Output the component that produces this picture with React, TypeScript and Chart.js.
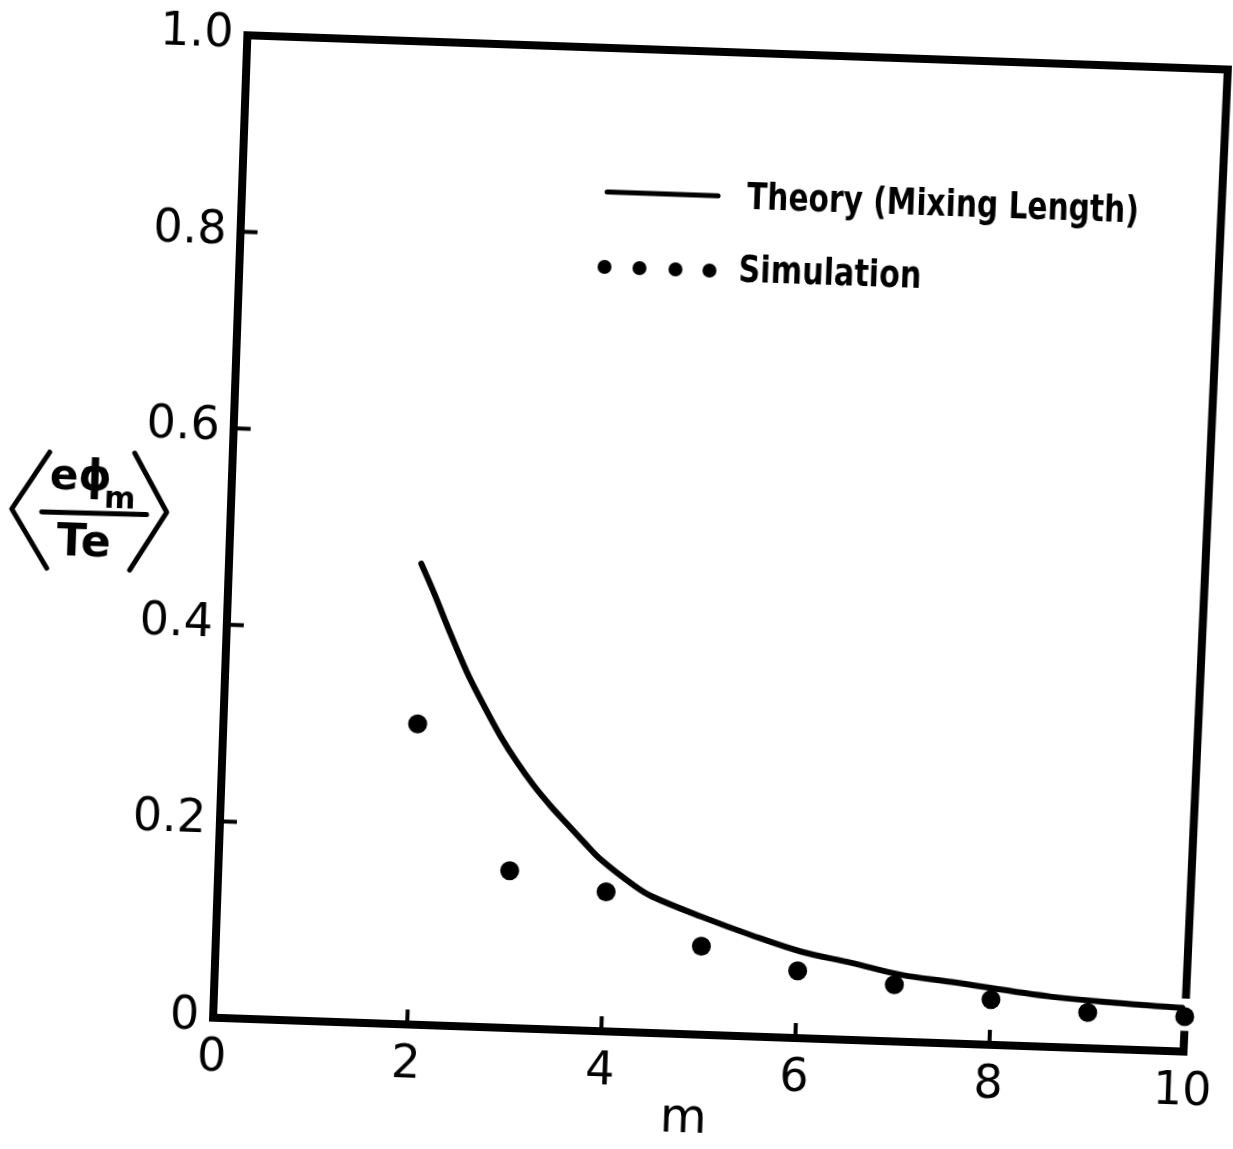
import React, { useEffect, useRef } from 'react';
import { Chart, registerables } from 'chart.js';

Chart.register(...registerables);

// ---- data ----
const theoryM = [1.98, 2.12, 2.3, 2.49, 2.68, 2.86, 3.04, 3.22, 3.4, 3.58, 3.76, 3.94, 4.29, 4.47, 4.99, 5.51, 6.03, 6.55, 7.07, 7.59, 8.63, 9.66, 9.97];
const theoryY = [0.469, 0.44, 0.4, 0.36, 0.326, 0.296, 0.27, 0.247, 0.227, 0.209, 0.191, 0.174, 0.149, 0.139, 0.12, 0.103, 0.088, 0.0785, 0.068, 0.0625, 0.051, 0.0455, 0.0445];

const simM = [2, 3, 4, 5, 6, 7, 8, 9, 10];
const simY = [0.306, 0.16, 0.142, 0.09, 0.0685, 0.0577, 0.046, 0.0364, 0.0356];

const xTicks = [0, 2, 4, 6, 8, 10];
const xTickLabels = ['0', '2', '4', '6', '8', '10'];
const yTicks = [0, 0.2, 0.4, 0.6, 0.8, 1.0];
const yTickLabels = ['0', '0.2', '0.4', '0.6', '0.8', '1.0'];

const xAxisTitle = 'm';
const yTitleNum = 'eϕ';
const yTitleSub = 'm';
const yTitleDen = 'Te';
const legendLabels = ['Theory (Mixing Length)', 'Simulation'];

const FONT = '"DejaVu Sans", sans-serif';

const decorPlugin = {
  id: 'decor',
  afterDatasetsDraw(chart: any) {
    const ctx = chart.ctx as CanvasRenderingContext2D;
    const { left, right, top, bottom } = chart.chartArea;
    const xs = chart.scales.x;
    const ys = chart.scales.y;
    ctx.save();
    ctx.strokeStyle = '#000';
    ctx.fillStyle = '#000';
    ctx.lineCap = 'square';
    ctx.lineJoin = 'miter';

    // frame (right edge leans slightly like the scanned original)
    const lean = 10;
    const rx = (py: number) => right + lean * (bottom - py) / (bottom - top);
    const gapTop = ys.getPixelForValue(0.058);
    const gapBot = ys.getPixelForValue(0.017);
    ctx.lineWidth = 8;
    ctx.beginPath();
    ctx.moveTo(left, bottom);
    ctx.lineTo(left, top);
    ctx.lineTo(rx(top), top);
    ctx.lineTo(rx(gapTop), gapTop);
    ctx.moveTo(rx(gapBot), gapBot);
    ctx.lineTo(right, bottom);
    ctx.lineTo(left, bottom);
    ctx.stroke();

    // inward tick marks
    ctx.lineWidth = 4;
    ctx.lineCap = 'butt';
    ctx.beginPath();
    for (const v of yTicks) {
      if (v <= 0 || v >= 1) continue;
      const py = ys.getPixelForValue(v);
      ctx.moveTo(left, py);
      ctx.lineTo(left + 17, py);
    }
    for (const v of xTicks) {
      if (v <= 0 || v >= 10) continue;
      const px = xs.getPixelForValue(v);
      ctx.moveTo(px, bottom);
      ctx.lineTo(px, bottom - 15);
    }
    ctx.stroke();

    // legend
    ctx.lineWidth = 5;
    ctx.lineCap = 'round';
    ctx.beginPath();
    ctx.moveTo(left + 365, top + 144);
    ctx.lineTo(left + 476, top + 144);
    ctx.stroke();
    for (const dx of [365, 400, 436, 470]) {
      ctx.beginPath();
      ctx.arc(left + dx, top + 219, 7, 0, Math.PI * 2);
      ctx.fill();
    }
    ctx.font = `bold 38px ${FONT}`;
    ctx.textBaseline = 'middle';
    ctx.textAlign = 'left';
    ctx.fillText(legendLabels[0], left + 505, top + 146, 392);
    ctx.fillText(legendLabels[1], left + 499, top + 219, 183);

    // x axis title
    ctx.font = `48px ${FONT}`;
    ctx.textAlign = 'center';
    ctx.fillText(xAxisTitle, (left + right) / 2 - 12, bottom + 86);

    // y axis title: < e phi_m / Te >
    const ox = left - 230;
    const cy = (top + bottom) / 2 - 10;
    ctx.lineWidth = 5;
    ctx.lineCap = 'round';
    ctx.lineJoin = 'round';
    ctx.beginPath();
    ctx.moveTo(ox + 47, cy - 58);
    ctx.lineTo(ox + 11, cy);
    ctx.lineTo(ox + 48, cy + 58);
    ctx.moveTo(ox + 132, cy - 60);
    ctx.lineTo(ox + 166, cy - 2);
    ctx.lineTo(ox + 131, cy + 57);
    ctx.moveTo(ox + 41, cy + 2);
    ctx.lineTo(ox + 146, cy + 1);
    ctx.stroke();
    ctx.textAlign = 'left';
    ctx.textBaseline = 'alphabetic';
    ctx.font = `bold 42px ${FONT}`;
    ctx.fillText(yTitleNum, ox + 48, cy - 22);
    ctx.font = `bold 30px ${FONT}`;
    ctx.fillText(yTitleSub, ox + 103, cy - 5);
    ctx.font = `bold 44px ${FONT}`;
    ctx.fillText(yTitleDen, ox + 57, cy + 44);

    ctx.restore();
  },
};

export default function App() {
  const canvasRef = useRef<HTMLCanvasElement | null>(null);

  useEffect(() => {
    const canvas = canvasRef.current;
    if (!canvas) return;
    const chart = new Chart(canvas, {
      type: 'scatter',
      data: {
        datasets: [
          {
            label: legendLabels[0],
            data: theoryM.map((m, i) => ({ x: m, y: theoryY[i] })),
            showLine: true,
            borderColor: '#000',
            borderWidth: 6,
            pointRadius: 0,
            tension: 0.35,
            borderCapStyle: 'round',
            clip: false,
          },
          {
            label: legendLabels[1],
            data: simM.map((m, i) => ({ x: m, y: simY[i] })),
            showLine: false,
            backgroundColor: '#000',
            borderColor: '#000',
            pointRadius: 9.5,
            pointBorderWidth: 0,
            clip: false,
          },
        ],
      } as any,
      options: {
        responsive: false,
        animation: false,
        devicePixelRatio: 1,
        layout: { padding: { left: 0, top: 52, right: 32, bottom: 0 } },
        plugins: { legend: { display: false }, tooltip: { enabled: false }, title: { display: false } },
        scales: {
          x: {
            type: 'linear',
            min: 0,
            max: 10,
            afterFit: (s: any) => {
              s.height = 114;
              s.paddingLeft = 0;
              s.paddingRight = 0;
            },
            afterBuildTicks: (s: any) => { s.ticks = xTicks.map((v) => ({ value: v })); },
            grid: { display: false, drawTicks: false },
            border: { display: false },
            ticks: {
              color: '#000',
              padding: 13,
              font: { family: FONT, size: 46 },
              maxRotation: 0,
              callback: (v: any) => xTickLabels[xTicks.indexOf(Number(v))] ?? '',
            },
          },
          y: {
            type: 'linear',
            min: 0,
            max: 1,
            afterFit: (s: any) => {
              s.width = 230;
              s.paddingTop = 0;
              s.paddingBottom = 0;
            },
            afterBuildTicks: (s: any) => { s.ticks = yTicks.map((v) => ({ value: v })); },
            grid: { display: false, drawTicks: false },
            border: { display: false },
            ticks: {
              color: '#000',
              padding: 14,
              font: { family: FONT, size: 46 },
              callback: (v: any) => {
                const i = yTicks.findIndex((t) => Math.abs(t - Number(v)) < 1e-9);
                return i >= 0 ? yTickLabels[i] : '';
              },
            },
          },
        },
      } as any,
      plugins: [decorPlugin],
    });
    return () => chart.destroy();
  }, []);

  return (
    <div
      style={{
        position: 'absolute',
        left: 0,
        top: 0,
        width: 1233,
        height: 1149,
        transform: 'rotate(2deg)',
        transformOrigin: '717px 542px',
      }}
    >
      <canvas ref={canvasRef} width={1233} height={1149} style={{ display: 'block', width: 1233, height: 1149 }} />
    </div>
  );
}
